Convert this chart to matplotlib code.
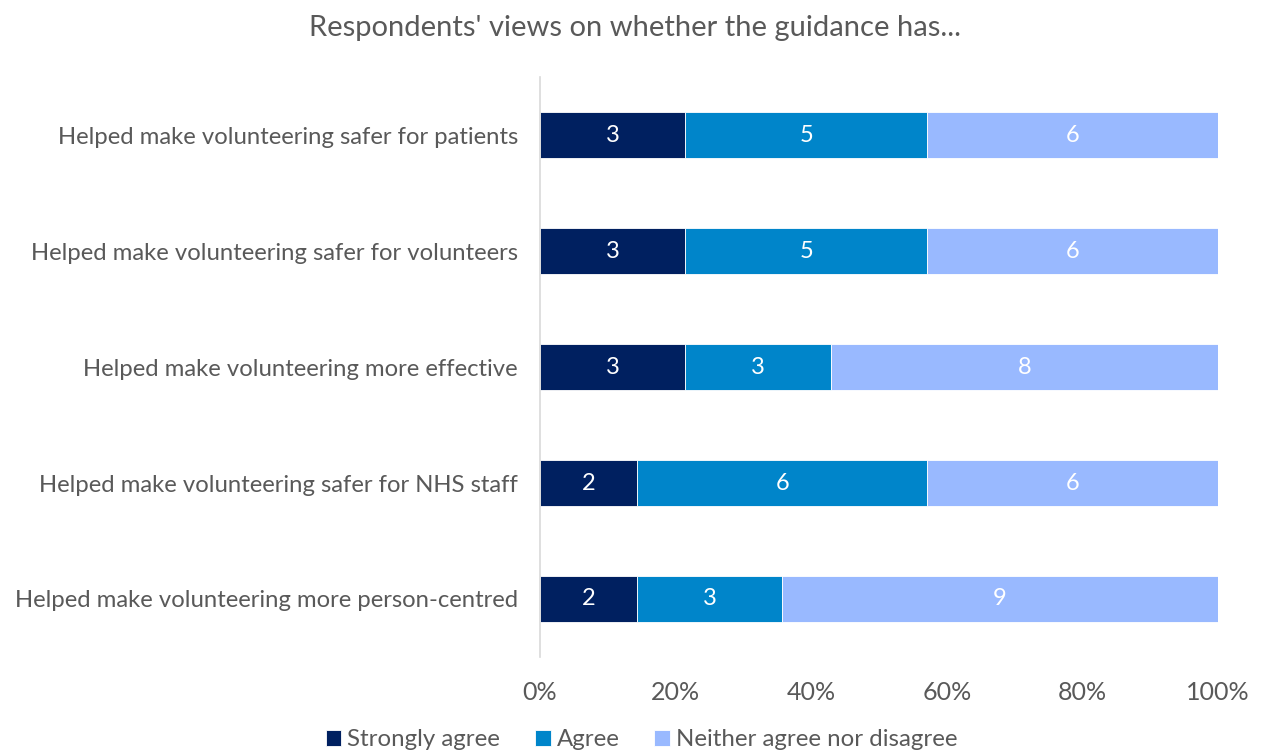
import numpy as np
import matplotlib.pyplot as plt
from matplotlib.ticker import PercentFormatter

plt.rcParams['font.family'] = ['Lato', 'DejaVu Sans']

statements = [
    "Helped make volunteering safer for patients",
    "Helped make volunteering safer for volunteers",
    "Helped make volunteering more effective",
    "Helped make volunteering safer for NHS staff",
    "Helped make volunteering more person-centred",
]
strongly_agree = [3, 3, 3, 2, 2]
agree = [5, 5, 3, 6, 3]
neither = [6, 6, 8, 6, 9]

series = [("Strongly agree", strongly_agree, "#002060"),
          ("Agree", agree, "#0085CA"),
          ("Neither agree nor disagree", neither, "#99B9FF")]

counts = np.array([s[1] for s in series], dtype=float)
totals = counts.sum(axis=0)
shares = counts / totals

fig = plt.figure(figsize=(12.63, 7.53), dpi=100)
ax = fig.add_axes([0.4276, 0.1275, 0.5368, 0.7702])

y = np.arange(len(statements))
left = np.zeros(len(statements))
for (name, vals, col), share in zip(series, shares):
    bars = ax.barh(y, share, left=left, height=0.4, color=col, label=name,
                   edgecolor="white", linewidth=0.6)
    labels = [str(v) for v in vals]
    ax.bar_label(bars, labels=labels, label_type="center", color="white", fontsize=17)
    left += share

ax.set_ylim(len(statements) - 0.5, -0.5)
ax.set_xlim(0, 1)
ax.set_yticks(y)
ax.set_yticklabels(statements, fontsize=17.2, color="#595959")
ax.set_xticks(np.linspace(0, 1, 6))
ax.xaxis.set_major_formatter(PercentFormatter(1.0, decimals=0))
ax.tick_params(axis="x", labelsize=18, labelcolor="#595959", length=0, pad=17)
ax.tick_params(axis="y", length=0, pad=16)

for side in ["top", "right", "bottom"]:
    ax.spines[side].set_visible(False)
ax.spines["left"].set_color("#D9D9D9")
ax.spines["left"].set_linewidth(1.2)

fig.text(0.503, 1 - 28 / 753, "Respondents' views on whether the guidance has...",
         fontsize=21, color="#595959", ha="center", va="center")

fig.legend(loc="center", bbox_to_anchor=(0.508, 1 - 740 / 753), ncol=3,
           frameon=False, fontsize=17.3, labelcolor="#595959",
           handlelength=0.65, handleheight=0.65, handletextpad=0.25, columnspacing=1.45,
           borderpad=0)

fig.savefig("out.png", dpi=100)
